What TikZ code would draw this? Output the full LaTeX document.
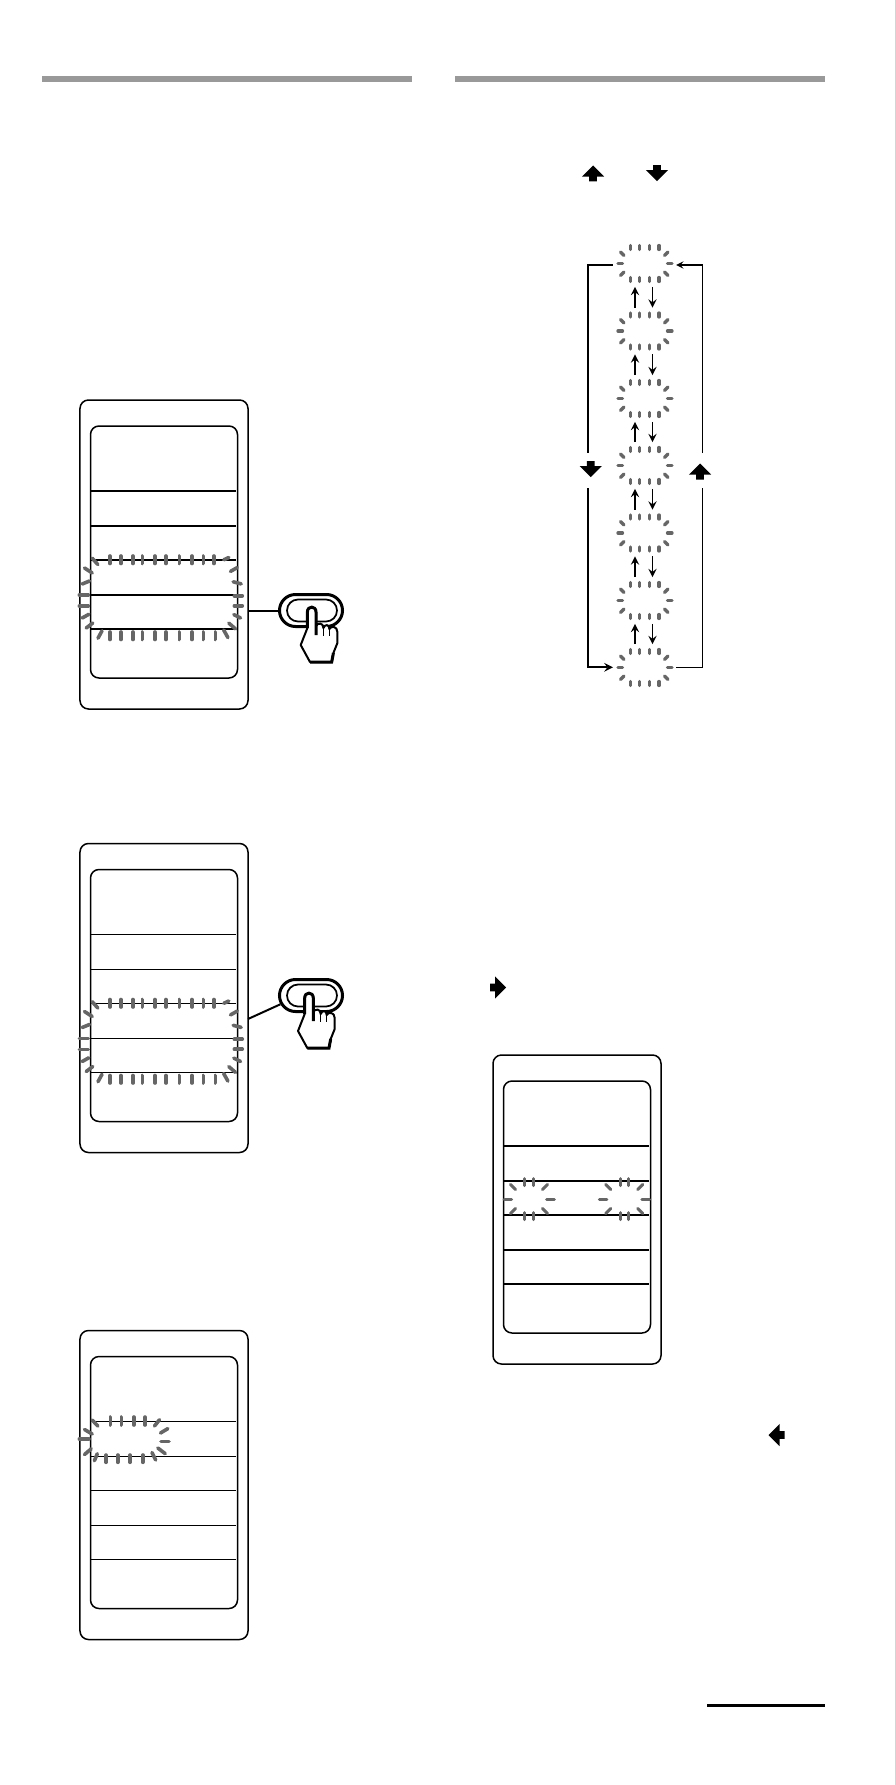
\documentclass[tikz,border=0pt]{standalone}
\usetikzlibrary{shapes.arrows,shapes.misc}

\definecolor{blinkgray}{HTML}{666666}
\definecolor{bargray}{HTML}{999999}

\tikzset{
  panelbox/.style={draw, line width=0.3mm, rounded corners=1.7mm, minimum width=33.6mm, minimum height=61.8mm, inner sep=0pt},
  screenbox/.style={draw, line width=0.3mm, rounded corners=1.7mm, minimum width=29.4mm, minimum height=50.4mm, inner sep=0pt},
  rowline/.style={line width=0.24mm},
  blink/.style={blinkgray, line width=0.72mm, line cap=round},
  selblink/.style={blinkgray, line width=0.66mm, line cap=round},
  pairblink/.style={blinkgray, line width=0.6mm, line cap=round},
  selbox/.style={minimum width=11mm, minimum height=9.2mm, inner sep=0pt},
  pillouter/.style={draw, line width=0.6mm, rounded rectangle, minimum width=12.6mm, minimum height=6.4mm, inner sep=0pt},
  pillinner/.style={draw, line width=0.35mm, rounded rectangle, minimum width=10mm, minimum height=4.4mm, inner sep=0pt},
  handline/.style={line width=0.4mm, line join=round},
  blockarrow/.style={single arrow, fill=black, inner sep=0.7mm, minimum height=3.2mm, minimum width=4.3mm, single arrow head extend=1.45mm, anchor=tip},
  topbar/.style={fill=bargray, draw=none},
  stepline/.style={line width=0.38mm},
  loopline/.style={line width=0.3mm},
}

% Ziffernblatt mit Zeilen (Versatz dx, dy)
\newcommand{\panelframe}[3]{
  \node[panelbox] (panel#1) at (164+#2,554.5+#3) {};
  \node[screenbox] (screen#1) at (164+#2,552+#3) {};
  \foreach \rowy in {491,526,560,595,629}
    \draw[rowline] (91+#2,\rowy+#3) -- (235.5+#2,\rowy+#3);
}

% Taste mit Hand; Fingerspitze bei (#3,#4)
\newcommand{\handbutton}[4]{
  \node[pillouter] (btn#1) at (311,#2) {};
  \node[pillinner] (btninner#1) at (312,#2) {};
  \begin{scope}[shift={(#3,#4)}]
    \filldraw[handline, fill=white] (-4.3,21) -- (-4.3,5) .. controls (-4.3,-1.5) and (4.3,-1.5) .. (4.3,5)
      -- (4.3,19) .. controls (6,15.5) and (11.7,15.5) .. (11.7,21)
      .. controls (13,17) and (17.7,17) .. (17.7,22)
      .. controls (19,18.5) and (25.7,19) .. (25.7,25)
      -- (25.7,36) -- (21.7,46) -- (20,55) -- (-1.7,55) -- (-11,38) -- cycle;
    \draw[line width=0.6mm] (-4.3,21) -- (-4.3,5) .. controls (-4.3,-1.5) and (4.3,-1.5) .. (4.3,5) -- (4.3,28);
    \draw[line width=0.3mm] (11.7,21) -- (11.7,29);
    \draw[line width=0.3mm] (17.7,22) -- (17.7,29);
    \draw[line width=0.6mm] (-1.7,55) -- (20,55) -- (21.7,46);
  \end{scope}
}

% Blinkmarken rund um die beiden mittleren Zeilen
\newcommand{\rowblink}[1]{
  \foreach \tickx in {110,121,133,142.3,155,166,179.3,192,203.3,214}
    \draw[blink] (\tickx,556+#1) -- (\tickx,563.5+#1);
  \foreach \tickx in {110,121,133,142.3,155,166,179.3,192,203.3,215.3}
    \draw[blink] (\tickx,632+#1) -- (\tickx,639.5+#1);
  \foreach \xa/\ya/\xb/\yb in {92.2/558.2/97.8/564.5, 84.5/568/92.2/573, 82.2/584/89.5/581,
      79.3/595/88.3/595, 79.3/606/88.3/606, 82.2/618/88.8/614.3, 86.2/628/92.8/623, 98/638.2/102/630.8,
      223.8/559.8/228.8/557.5, 230.5/571.4/237.2/567.6, 233.2/581.8/241.2/583.9, 234.3/595.7/242.3/595.7,
      234.3/605.7/242.3/605.7, 233.8/614.6/240.5/618, 228.8/623.1/235.5/628.9, 223.7/630/227.9/637.6}
    \draw[blink] (\xa,\ya+#1) -- (\xb,\yb+#1);
}

% Marken um einen Schritt der Auswahlkette
\newcommand{\selmarks}[1]{
  \begin{scope}[shift={(#1)}]
    \foreach \tickx in {-14.7,-5.3,4.3,14}{
      \draw[selblink] (\tickx,-18) -- (\tickx,-14);
      \draw[selblink] (\tickx,14) -- (\tickx,18);
    }
    \draw[selblink] (-27,0) -- (-22.5,0);
    \draw[selblink] (22.5,0) -- (27,0);
    \draw[selblink] (-24.5,-11.5) -- (-21,-8);
    \draw[selblink] (19.5,-8) -- (23,-11.5);
    \draw[selblink] (-24.5,12) -- (-21,8.5);
    \draw[selblink] (19.5,8.5) -- (23,12);
  \end{scope}
}

% Marken um eine Ziffer in Anzeige 4
\newcommand{\pairmarks}[1]{
  \begin{scope}[shift={(#1)}]
    \foreach \tickx in {-4.3,4.3}{
      \draw[pairblink] (\tickx,-20.5) -- (\tickx,-13.5);
      \draw[pairblink] (\tickx,13.5) -- (\tickx,20.5);
    }
    \draw[pairblink] (-25,0) -- (-17.5,0);
    \draw[pairblink] (17.5,0) -- (25.3,0);
    \draw[pairblink] (-18.5,-14.5) -- (-13.5,-9.5);
    \draw[pairblink] (13.5,-9.5) -- (18.5,-14.5);
    \draw[pairblink] (-18.5,14.5) -- (-13.5,9.5);
    \draw[pairblink] (13.5,9.5) -- (18.5,14.5);
  \end{scope}
}

\begin{document}
\begin{tikzpicture}[x=0.2mm, y=-0.2mm, >=stealth]
  \useasboundingbox (0,0) rectangle (894,1785);

  % Balken oben
  \fill[topbar] (42,76) rectangle (412,82);
  \fill[topbar] (455,76) rectangle (825,82);

  % Linie unten
  \fill (707,1704) rectangle (825,1707);

  % Pfeile im Text
  \node[blockarrow, shape border rotate=90] (keyup) at (593,165) {};
  \node[blockarrow, shape border rotate=270] (keydown) at (657,181.7) {};
  \node[blockarrow] (keyright) at (506.7,987.5) {};
  \node[blockarrow, shape border rotate=180] (keyleft) at (768,1435) {};

  % Anzeige 1 mit Taste
  \panelframe{A}{0}{0}
  \rowblink{0}
  \handbutton{A}{610.5}{311.7}{607}
  \draw[line width=0.4mm] (panelA.east |- btnA.west) -- (btnA.west);

  % Anzeige 2 mit Taste
  \panelframe{B}{0}{443.5}
  \rowblink{443.5}
  \handbutton{B}{995.5}{309}{993}
  \coordinate (sideB) at (248,1019);
  \draw[line width=0.4mm] (sideB) -- (btnB.196);

  % Anzeige 3
  \panelframe{C}{0}{930.5}
  \foreach \tickx in {110.3,121.3,133.7,145}
    \draw[blink] (\tickx,1417) -- (\tickx,1425);
  \foreach \tickx in {106,117.7,130,142.7}
    \draw[blink] (\tickx,1455) -- (\tickx,1462.3);
  \foreach \xa/\ya/\xb/\yb in {92.2/1420/97.8/1426, 84.5/1429.5/92.2/1434, 79.3/1439/89/1439,
      84.5/1454.5/91.2/1448.8, 94.4/1460.7/97.3/1453.7, 154.5/1426/159.5/1419.7, 160.5/1433/167.8/1428.6,
      161/1441.3/169/1441.3, 157.8/1448/165.2/1453.6, 152/1452.5/155.7/1460}
    \draw[blink] (\xa,\ya) -- (\xb,\yb);

  % Anzeige 4
  \panelframe{D}{413}{655}
  \pairmarks{529,1199}
  \pairmarks{624.3,1199}

  % Auswahlkette rechts
  \foreach \n/\y in {1/263.5,2/331,3/398.5,4/465.5,5/533,6/600.5,7/667.5}{
    \node[selbox] (sel\n) at (645,\y) {};
    \selmarks{sel\n}
  }
  \foreach \a/\b in {1/2,2/3,3/4,4/5,5/6,6/7}{
    \draw[stepline, ->] ([xshift=-2mm]sel\b.north) -- ([xshift=-2mm]sel\a.south);
    \draw[stepline, ->] ([xshift=1.5mm]sel\a.south) -- ([xshift=1.5mm]sel\b.north);
  }

  % Umlauf links und rechts
  \node[blockarrow, shape border rotate=270] (sidedown) at (590.7,477.7) {};
  \node[blockarrow, shape border rotate=90] (sideup) at (700,463) {};
  \coordinate (topL) at (612.7,265);
  \coordinate (botL) at (613,667.3);
  \coordinate (topR) at (676,265);
  \coordinate (botR) at (676,667.3);
  \draw[line width=0.42mm] (topL) -- (587.7,265) -- (587.7,453);
  \draw[line width=0.42mm, ->] (587.7,488) -- (587.7,667.3) -- (botL);
  \draw[loopline] (botR) -- (702.7,667.3) -- (702.7,488);
  \draw[loopline, ->] (702.7,453) -- (702.7,265) -- (topR);
\end{tikzpicture}
\end{document}
